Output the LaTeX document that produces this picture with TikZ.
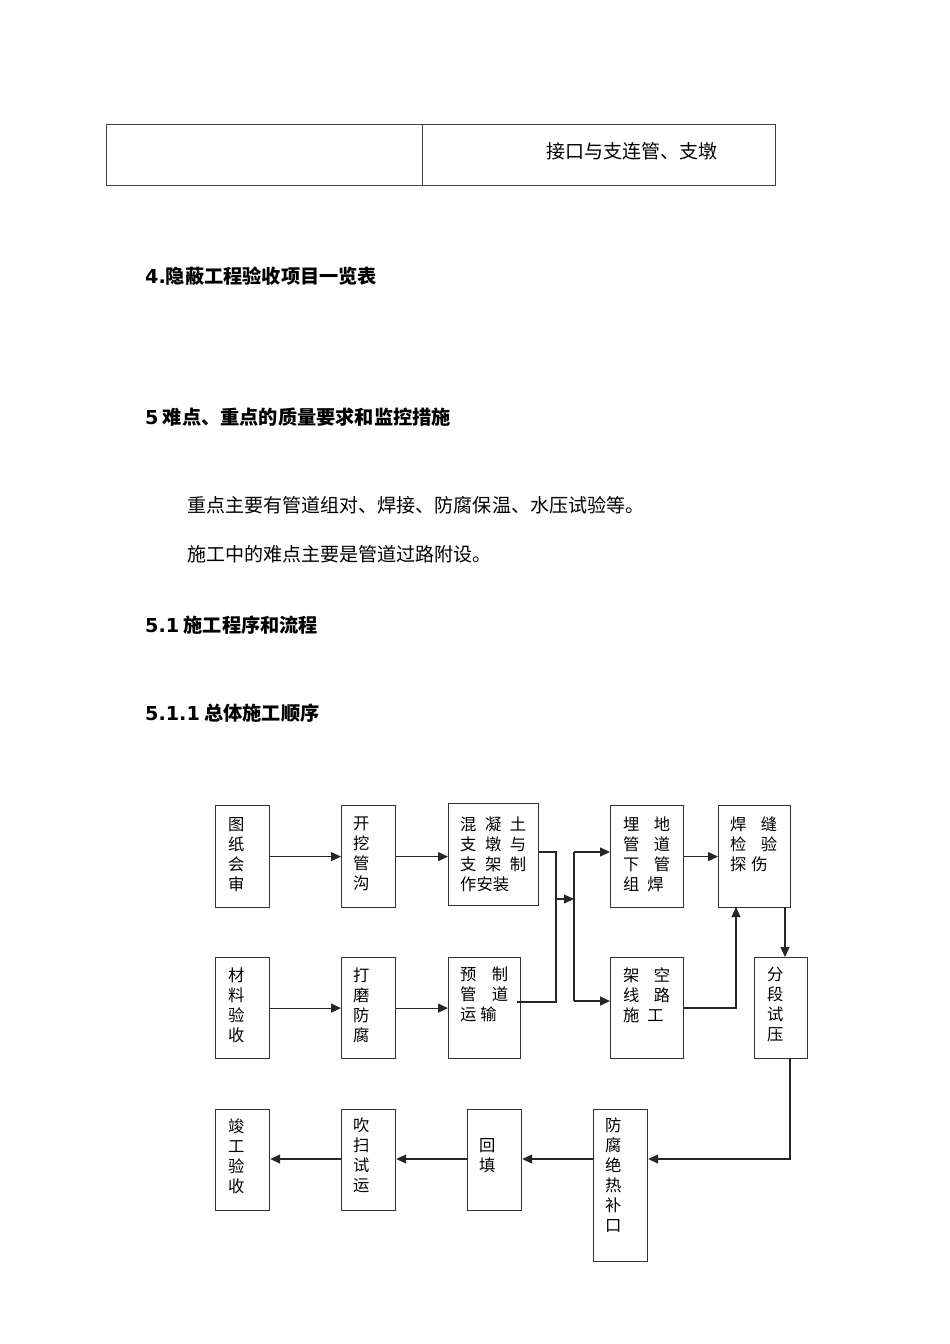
\documentclass[tikz,border=0pt]{standalone}
\usepackage{fontspec}
\setmainfont{Noto Sans CJK SC}
\newfontfamily\dejavu{DejaVu Sans}
\usetikzlibrary{arrows.meta}
\newcommand\spr[2]{\hbox to #1{#2}}
\begin{document}
\begin{tikzpicture}[x=1pt,y=-1pt,
  box/.style={draw=black!80, line width=1.2pt, inner sep=0pt, anchor=north west},
  btxt/.style={inner sep=0pt, anchor=north west, align=left, font=\fontsize{16.3}{20}\selectfont},
  cell/.style={draw=black!75, line width=0.9pt, inner sep=0pt, anchor=north west},
  ln/.style={line width=1.2pt, draw=black!85},
  arr/.style={line width=1.2pt, draw=black!85, -{Triangle[length=10pt,width=9pt]}},
  head/.style={inner sep=0pt, anchor=west, font=\fontsize{19.2}{22}\selectfont\bfseries},
  para/.style={inner sep=0pt, anchor=west, font=\fontsize{19.05}{22}\selectfont}
]
\useasboundingbox (0,0) rectangle (950,1344);

% table
\node[cell, minimum width=316pt, minimum height=61pt] (c1) at (106,124) {};
\node[cell, minimum width=353pt, minimum height=61pt] (c2) at (422,124) {};
\node[para, font=\fontsize{19}{22}\selectfont] (c2t) at (546,151) {接口与支连管、支墩};

% headings and paragraphs
\node[head] (h4) at (145,276) {{\dejavu\bfseries 4.}隐蔽工程验收项目一览表};
\node[head] (h5) at (145,417) {{\dejavu\bfseries 5} 难点、重点的质量要求和监控措施};
\node[para] (p1) at (187,505) {重点主要有管道组对、焊接、防腐保温、水压试验等。};
\node[para] (p2) at (187,554) {施工中的难点主要是管道过路附设。};
\node[head] (h51) at (145,625) {{\dejavu\bfseries 5.1} 施工程序和流程};
\node[head] (h511) at (145,713) {{\dejavu\bfseries 5.1.1} 总体施工顺序};

% boxes row 1
\node[box, minimum width=54pt, minimum height=102pt] (tz) at (215,805) {};
\node[box, minimum width=54pt, minimum height=102pt] (kw) at (341,805) {};
\node[box, minimum width=90pt, minimum height=102pt] (hn) at (448,803) {};
\node[box, minimum width=73pt, minimum height=102pt] (md) at (610,805) {};
\node[box, minimum width=72pt, minimum height=102pt] (hf) at (718,805) {};
% row 2
\node[box, minimum width=54pt, minimum height=101pt] (cl) at (215,957) {};
\node[box, minimum width=54pt, minimum height=101pt] (dm) at (341,957) {};
\node[box, minimum width=72pt, minimum height=101pt] (yz) at (448,957) {};
\node[box, minimum width=73pt, minimum height=101pt] (jk) at (610,957) {};
\node[box, minimum width=53pt, minimum height=101pt] (fd) at (754,957) {};
% row 3
\node[box, minimum width=54pt, minimum height=101pt] (jg) at (215,1109) {};
\node[box, minimum width=54pt, minimum height=101pt] (cs) at (341,1109) {};
\node[box, minimum width=54pt, minimum height=101pt] (ht) at (467,1109) {};
\node[box, minimum width=54pt, minimum height=152pt] (ff) at (593,1109) {};

% box texts
\node[btxt] (tzt) at (228,817) {图\\纸\\会\\审};
\node[btxt] (kwt) at (353,817) {开\\挖\\管\\沟};
\node[btxt] (hnt) at (460,817) {\spr{66pt}{混\hfill 凝\hfill 土}\\\spr{66pt}{支\hfill 墩\hfill 与}\\\spr{66pt}{支\hfill 架\hfill 制}\\作安装};
\node[btxt] (mdt) at (623,817) {\spr{47pt}{埋\hfill 地}\\\spr{47pt}{管\hfill 道}\\\spr{47pt}{下\hfill 管}\\组\hspace{8pt}焊};
\node[btxt] (hft) at (730,817) {\spr{47pt}{焊\hfill 缝}\\\spr{47pt}{检\hfill 验}\\探\hspace{5pt}伤};
\node[btxt] (clt) at (228,968) {材\\料\\验\\收};
\node[btxt] (dmt) at (353,968) {打\\磨\\防\\腐};
\node[btxt] (yzt) at (460,967) {\spr{48pt}{预\hfill 制}\\\spr{48pt}{管\hfill 道}\\运\hspace{4pt}输};
\node[btxt] (jkt) at (623,967) {\spr{47pt}{架\hfill 空}\\\spr{47pt}{线\hfill 路}\\施\hspace{8pt}工};
\node[btxt] (fdt) at (767,967) {分\\段\\试\\压};
\node[btxt] (jgt) at (228,1118) {竣\\工\\验\\收};
\node[btxt] (cst) at (353,1118) {吹\\扫\\试\\运};
\node[btxt] (htt) at (479,1138) {回\\填};
\node[btxt] (fft) at (605,1118) {防\\腐\\绝\\热\\补\\口};

% connectors
\draw[arr] (tz) -- (kw);
\draw[arr] (kw.east) -- (kw.east -| hn.west);
\draw[arr] (cl) -- (dm);
\draw[arr] (dm) -- (yz);
\coordinate (j1) at (556,852);
\coordinate (j2) at (556,1002);
\coordinate (y0) at (517,1002);
\draw[ln] (hn.east |- j1) -- (j1) -- (j2) -- (y0);
\coordinate (m) at (556,899);
\coordinate (s) at (574,899);
\draw[arr] (m) -- (s);
\coordinate (s1) at (574,852);
\coordinate (s2) at (574,1001);
\draw[ln] (s1) -- (s2);
\draw[arr] (s1) -- (s1 -| md.west);
\draw[arr] (s2) -- (s2 -| jk.west);
\draw[arr] (md) -- (hf);
\coordinate (u) at (736,907);
\coordinate (jr) at (683,1008);
\draw[arr] (jr) -| (u);
\coordinate (d1) at (785,907);
\draw[arr] (d1) -- (d1 |- fd.north);
\coordinate (e1) at (790,1058);
\coordinate (e2) at (790,1159);
\draw[arr] (e1) -- (e2) -- (e2 -| ff.east);
\draw[arr] (ff.west |- e2) -- (e2 -| ht.east);
\draw[arr] (ht.west |- e2) -- (e2 -| cs.east);
\draw[arr] (cs.west |- e2) -- (e2 -| jg.east);
\end{tikzpicture}
\end{document}
